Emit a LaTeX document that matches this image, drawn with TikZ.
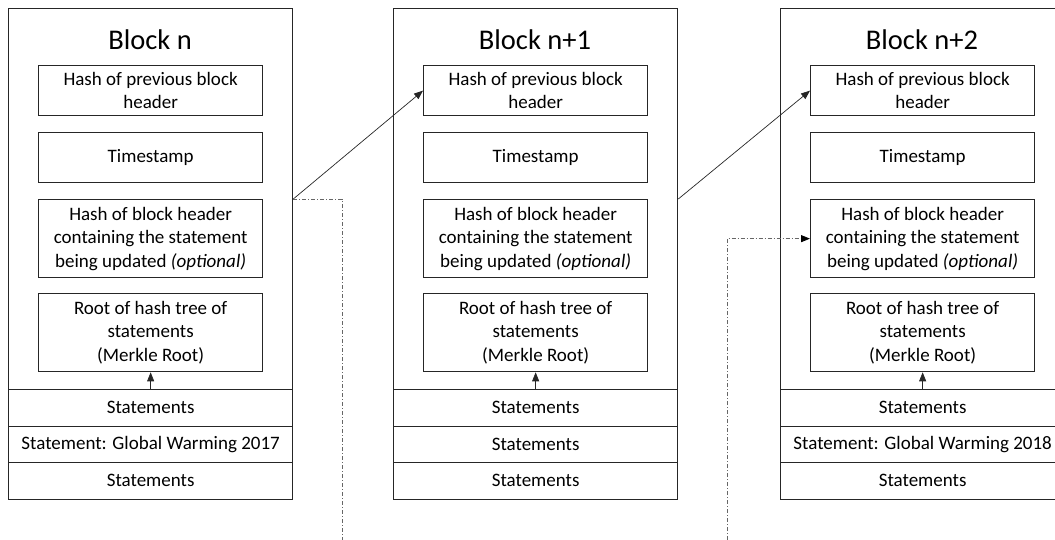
\documentclass[tikz,border=0pt]{standalone}
\usepackage{fontspec}
\setmainfont{Carlito}
\usetikzlibrary{arrows.meta}

\tikzset{
    line/.style={draw=black!85, line width=1.3pt},
    blockbox/.style={line, anchor=north west, inner sep=0pt, minimum width=284pt, minimum height=381pt},
    field/.style={line, anchor=north west, inner sep=0pt, minimum width=224pt, align=center},
    rowbox/.style={line, anchor=north west, inner sep=0pt, minimum width=284pt, minimum height=36.5pt},
    titletext/.style={font=\fontsize{28.5}{34}\selectfont},
    arr/.style={draw=black!85, line width=0.7pt, -{Triangle[length=9pt,width=7pt]}},
    dd/.style={draw=black!60, line width=0.8pt, dash pattern=on 4pt off 2pt on 1pt off 2pt},
    ddarr/.style={dd, -{Triangle[length=9pt,width=7pt,color=black]}}
}

\begin{document}
\begin{tikzpicture}[x=1pt, y=-1pt, font=\fontsize{19}{23.5}\selectfont]
    \useasboundingbox (0,0) rectangle (1055,540);

    \foreach \i/\x/\lbl/\stm in {0/8/n/Statement: Global Warming 2017,
                                 1/393/n+1/Statements,
                                 2/780/n+2/Statement: Global Warming 2018}
    {
        \node[blockbox] (blk\i) at (\x,8) {};
        \node[titletext] (title\i) at (\x+142,40) {Block \lbl};
        \node[field, minimum height=50pt] (prev\i) at (\x+30,65) {Hash of previous block\\header};
        \node[field, minimum height=50pt] (time\i) at (\x+30,132) {Timestamp};
        \node[field, minimum height=78pt] (upd\i) at (\x+30,199)
            {Hash of block header\\containing the statement\\being updated \textit{(optional)}};
        \node[field, minimum height=78pt] (root\i) at (\x+30,293)
            {Root of hash tree of\\statements\\(Merkle Root)};
        \node[rowbox] (rowa\i) at (\x,389) {Statements};
        \node[rowbox] (rowb\i) at (\x,425.5) {\stm};
        \node[rowbox] (rowc\i) at (\x,462) {Statements};
        \draw[arr] (rowa\i.north) -- (root\i.south);
    }

    % chain of block headers
    \coordinate (out0) at (blk0.east |- upd0.north);
    \coordinate (out1) at (blk1.east |- upd1.north);
    \draw[arr] (out0) -- (prev1.west);
    \draw[arr] (out1) -- (prev2.west);

    % statement references
    \coordinate (down0) at (342,540);
    \coordinate (up2) at (727,540);
    \draw[dd] (out0) -| (down0);
    \draw[ddarr] (up2) |- (upd2.west);
\end{tikzpicture}
\end{document}
